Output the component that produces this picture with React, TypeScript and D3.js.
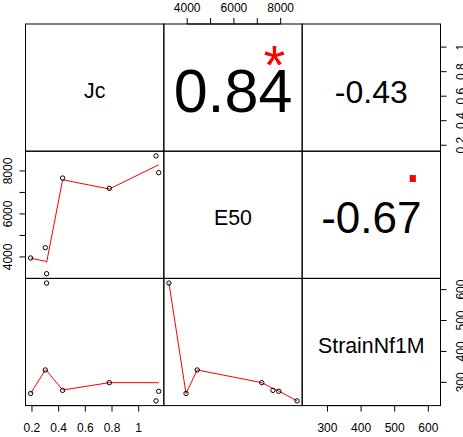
import React from "react";
import * as d3 from "d3";

// ---- data ----
const varNames = ["Jc", "E50", "StrainNf1M"];
const jc = [0.19, 0.3, 0.31, 0.43, 0.78, 1.13, 1.15];
const e50 = [3950, 4430, 3220, 7670, 7190, 8700, 7920];
const strain = [264, 340, 621, 274, 299, 240, 271];
const corLabels = ["0.84", "-0.43", "-0.67"]; // (1,2), (1,3), (2,3)
const corSignif = ["*", "", "."];
const jcTicks = [0.2, 0.4, 0.6, 0.8, 1.0];
const e50Ticks = [4000, 5000, 6000, 7000, 8000];
const e50Labeled = [4000, 6000, 8000];
const strainTicks = [300, 400, 500, 600];

// smoother (lowess) values, at sorted x
const smoothJcX = [0.19, 0.3, 0.31, 0.43, 0.78, 1.13, 1.15];
const smoothJcE50 = [3940, 3800, 3750, 7590, 7160, 8226, 8277];
const smoothJcStrain = [264, 340, 338, 275, 299, 299, 299];
const smoothE50X = [3220, 3950, 4430, 7190, 7670, 7920, 8700];
const smoothE50Strain = [621, 264, 340, 299, 280, 272, 240];

// ---- layout ----
const W = 463, H = 437;
const L = 25.5, R = 440.5, T = 24, B = 405.6;
const pw = (R - L) / 3, ph = (B - T) / 3;
const FONT = "'Liberation Sans', Arial, Helvetica, sans-serif";

const series = [jc, e50, strain];
function ext(v: number[]): [number, number] {
  const [a, b] = d3.extent(v) as [number, number];
  const d = (b - a) * 0.04;
  return [a - d, b + d];
}
const xScales = series.map((s, j) =>
  d3.scaleLinear().domain(ext(s)).range([L + j * pw, L + (j + 1) * pw])
);
const yScales = series.map((s, i) =>
  d3.scaleLinear().domain(ext(s)).range([T + (i + 1) * ph, T + i * ph])
);

const fmt = (v: number) => (Number.isInteger(v) ? String(v) : v.toFixed(1));

type Panel = { i: number; j: number; sx: number[]; sy: number[] };
const lowerPanels: Panel[] = [
  { i: 1, j: 0, sx: smoothJcX, sy: smoothJcE50 },
  { i: 2, j: 0, sx: smoothJcX, sy: smoothJcStrain },
  { i: 2, j: 1, sx: smoothE50X, sy: smoothE50Strain },
];
const upperPanels: [number, number][] = [
  [0, 1],
  [0, 2],
  [1, 2],
];

export default function App() {
  const corFont = [61, 32, 44];
  const corBase = [24.7, 15.1, 18.5];
  const sigFont = [56, 0, 65];

  return (
    <svg
      width={W}
      height={H}
      style={{ position: "absolute", left: 0, top: 0, background: "#fff" }}
      fontFamily={FONT}
    >
      <rect x={0} y={0} width={W} height={H} fill="#fff" />
      {/* lower panels: scatter + smooth */}
      {lowerPanels.map(({ i, j, sx, sy }) => {
        const xs = xScales[j], ys = yScales[i];
        const xv = series[j], yv = series[i];
        const pts = sx.map((v, k) => [v, sy[k]] as [number, number]);
        const path = d3
          .line<[number, number]>()
          .x((d) => xs(d[0]))
          .y((d) => ys(d[1]))(pts);
        return (
          <g key={`l${i}${j}`}>
            <path d={path || ""} fill="none" stroke="#ff0000" strokeWidth={1} />
            {xv.map((v, k) => (
              <circle key={k} cx={xs(v)} cy={ys(yv[k])} r={2.2} fill="none" stroke="#000" strokeWidth={1} />
            ))}
          </g>
        );
      })}
      {/* diagonal labels */}
      {varNames.map((nm, k) => (
        <text
          key={nm}
          x={L + (k + 0.5) * pw}
          y={T + (k + 0.5) * ph + 10.6}
          textAnchor="middle"
          fontSize={21.3}
        >
          {nm}
        </text>
      ))}
      {/* upper panels: correlations */}
      {upperPanels.map(([i, j], k) => {
        const cx = L + (j + 0.5) * pw, cy = T + (i + 0.5) * ph;
        const sx = L + (j + 0.8) * pw, sy = T + (i + 1) * ph - 0.8 * ph;
        return (
          <g key={`u${i}${j}`}>
            <text x={cx} y={cy + corBase[k]} textAnchor="middle" fontSize={corFont[k]}>
              {corLabels[k]}
            </text>
            {corSignif[k] && (
              <text
                x={sx}
                y={corSignif[k] === "*" ? sy + 34.5 : sy + 5.1}
                textAnchor="middle"
                fontSize={sigFont[k]}
                fill="#ff0000"
              >
                {corSignif[k]}
              </text>
            )}
          </g>
        );
      })}
      {/* panel frames */}
      {[0, 1, 2].map((i) =>
        [0, 1, 2].map((j) => (
          <rect
            key={`f${i}${j}`}
            x={L + j * pw}
            y={T + i * ph}
            width={pw}
            height={ph}
            fill="none"
            stroke="#000"
            strokeWidth={1}
          />
        ))
      )}
      {/* bottom axis col 0 (Jc) */}
      <g>
        {jcTicks.map((t) => (
          <g key={`bj${t}`}>
            <line x1={xScales[0](t)} x2={xScales[0](t)} y1={B} y2={B + 6} stroke="#000" />
            <text x={xScales[0](t)} y={431.7} textAnchor="middle" fontSize={12}>
              {fmt(t)}
            </text>
          </g>
        ))}
        <line x1={xScales[0](jcTicks[0])} x2={xScales[0](jcTicks[jcTicks.length - 1])} y1={B} y2={B} stroke="#000" />
      </g>
      {/* bottom axis col 2 (Strain) */}
      <g>
        {strainTicks.map((t) => (
          <g key={`bs${t}`}>
            <line x1={xScales[2](t)} x2={xScales[2](t)} y1={B} y2={B + 6} stroke="#000" />
            <text x={xScales[2](t)} y={431.7} textAnchor="middle" fontSize={12}>
              {fmt(t)}
            </text>
          </g>
        ))}
        <line x1={xScales[2](strainTicks[0])} x2={xScales[2](strainTicks[strainTicks.length - 1])} y1={B} y2={B} stroke="#000" />
      </g>
      {/* top axis col 1 (E50) */}
      <g>
        {e50Ticks.map((t) => (
          <g key={`te${t}`}>
            <line x1={xScales[1](t)} x2={xScales[1](t)} y1={T} y2={T - 6} stroke="#000" />
            {e50Labeled.includes(t) && (
              <text x={xScales[1](t)} y={11.7} textAnchor="middle" fontSize={12}>
                {fmt(t)}
              </text>
            )}
          </g>
        ))}
        <line x1={xScales[1](e50Ticks[0])} x2={xScales[1](e50Ticks[e50Ticks.length - 1])} y1={T} y2={T} stroke="#000" />
      </g>
      {/* left axis row 1 (E50) */}
      <g>
        {e50Ticks.map((t) => (
          <g key={`le${t}`}>
            <line x1={L} x2={L - 6} y1={yScales[1](t)} y2={yScales[1](t)} stroke="#000" />
            {e50Labeled.includes(t) && (
              <text
                transform={`translate(11.7,${yScales[1](t)}) rotate(-90)`}
                textAnchor="middle"
                fontSize={12}
              >
                {fmt(t)}
              </text>
            )}
          </g>
        ))}
        <line x1={L} x2={L} y1={yScales[1](e50Ticks[0])} y2={yScales[1](e50Ticks[e50Ticks.length - 1])} stroke="#000" />
      </g>
      {/* right axis row 0 (Jc) */}
      <g>
        {jcTicks.map((t) => (
          <g key={`rj${t}`}>
            <line x1={R} x2={R + 6} y1={yScales[0](t)} y2={yScales[0](t)} stroke="#000" />
            <text transform={`translate(465.3,${yScales[0](t)}) rotate(-90)`} textAnchor="middle" fontSize={12}>
              {fmt(t)}
            </text>
          </g>
        ))}
      </g>
      {/* right axis row 2 (Strain) */}
      <g>
        {strainTicks.map((t) => (
          <g key={`rs${t}`}>
            <line x1={R} x2={R + 6} y1={yScales[2](t)} y2={yScales[2](t)} stroke="#000" />
            <text transform={`translate(465.3,${yScales[2](t)}) rotate(-90)`} textAnchor="middle" fontSize={12}>
              {fmt(t)}
            </text>
          </g>
        ))}
      </g>
    </svg>
  );
}
